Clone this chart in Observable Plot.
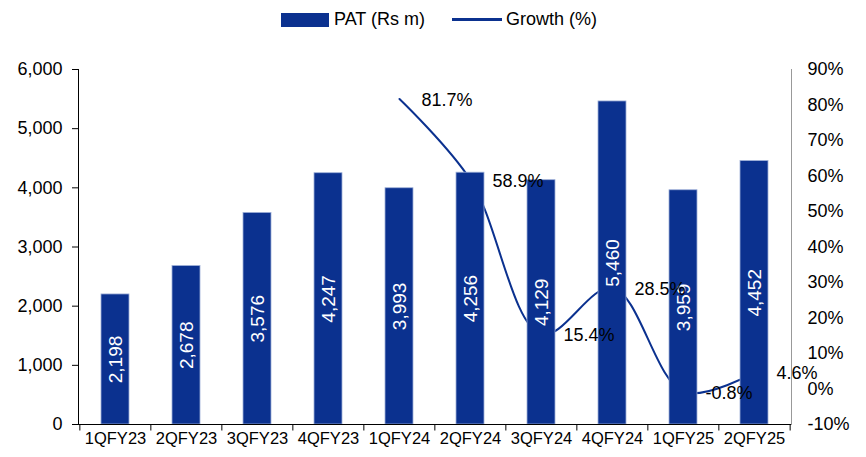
<!DOCTYPE html>
<html><head><meta charset="utf-8">
<script src="https://cdn.jsdelivr.net/npm/d3@7"></script>
<script src="https://cdn.jsdelivr.net/npm/@observablehq/plot@0.6"></script>
<style>
body{margin:0;background:#fff;font-family:"Liberation Sans",Arial,sans-serif;}
#legend{height:45px;display:flex;justify-content:center;align-items:center;font-size:18px;color:#000;padding-left:12px;padding-bottom:6px;box-sizing:border-box;}
.sw-bar{display:inline-block;width:48px;height:14px;background:#0b318f;margin-right:5px;}
.sw-line{display:inline-block;width:50px;height:3px;background:#0b318f;margin-right:4px;margin-left:27px;}
#chart svg{display:block;}
</style></head>
<body>
<div id="legend"><span class="sw-bar"></span><span>PAT (Rs m)</span><span class="sw-line"></span><span>Growth (%)</span></div>
<div id="chart"></div>
<script>
const quarters = ["1QFY23","2QFY23","3QFY23","4QFY23","1QFY24","2QFY24","3QFY24","4QFY24","1QFY25","2QFY25"];
const pat = [2198,2678,3576,4247,3993,4256,4129,5460,3959,4452];
const growthQuarters = ["1QFY24","2QFY24","3QFY24","4QFY24","1QFY25","2QFY25"];
const growth = [81.7,58.9,15.4,28.5,-0.8,4.6];
const leftTicks = [0,1000,2000,3000,4000,5000,6000];
const rightTicks = [-10,0,10,20,30,40,50,60,70,80,90];

const leftMin = 0, leftMax = 6000, rightMin = -10, rightMax = 90;
const toLeft = g => leftMin + (g - rightMin) * (leftMax - leftMin) / (rightMax - rightMin);
const fromLeft = v => rightMin + (v - leftMin) * (rightMax - rightMin) / (leftMax - leftMin);

const W = 866, H = 412, ML = 78, MR = 75, MT = 24, MB = 33;
const step = (W - ML - MR) / quarters.length;

const bars = quarters.map((q, i) => ({q, v: pat[i]}));
const gdata = growthQuarters.map((q, i) => ({q, g: growth[i]}));
const color = "#0b318f";

const plot = Plot.plot({
  width: W, height: H,
  marginLeft: ML, marginRight: MR, marginTop: MT, marginBottom: MB,
  style: {fontFamily: '"Liberation Sans", Arial, sans-serif', fontSize: "18px", color: "#000", background: "#fff"},
  x: {domain: quarters, paddingInner: 0.6, paddingOuter: 0.3},
  y: {domain: [leftMin, leftMax], nice: false},
  marks: [
    Plot.line(gdata, {x: "q", y: d => toLeft(d.g), stroke: color, strokeWidth: 2, curve: "catmull-rom"}),
    Plot.barY(bars, {x: "q", y: "v", fill: color, stroke: "#9fb0d8", strokeWidth: 0.8}),
    Plot.text(bars, {x: "q", y: d => d.v / 2, text: d => d3.format(",")(d.v), rotate: -90, fill: "#fff", fontSize: 19}),
    Plot.text(gdata, {x: "q", y: d => toLeft(d.g), text: d => d.g.toFixed(1) + "%", textAnchor: "start", dx: 22, dy: 1, fill: "#000", fontSize: 18}),
    Plot.frame({anchor: "left", stroke: "#000"}),
    Plot.frame({anchor: "right", stroke: "#999"}),
    Plot.ruleY([0], {stroke: "#000"}),
    Plot.ruleX(quarters, {x: d => d, y1: 0, y2: -110, dx: -step / 2, stroke: "#000"}),
    Plot.ruleX(quarters.slice(-1), {x: d => d, y1: 0, y2: -110, dx: step / 2, stroke: "#000"}),
    Plot.axisY(leftTicks, {anchor: "left", tickFormat: d3.format(","), tickSize: 6, tickPadding: 10, fontSize: 18, label: null}),
    Plot.axisY(rightTicks.map(toLeft), {anchor: "right", tickFormat: d => Math.round(fromLeft(d)) + "%", tickSize: 0, tickPadding: 16, fontSize: 18, label: null}),
    Plot.axisX({tickSize: 0, tickPadding: 8, fontSize: 16.5, label: null})
  ]
});
document.getElementById("chart").appendChild(plot);
</script>
</body></html>
